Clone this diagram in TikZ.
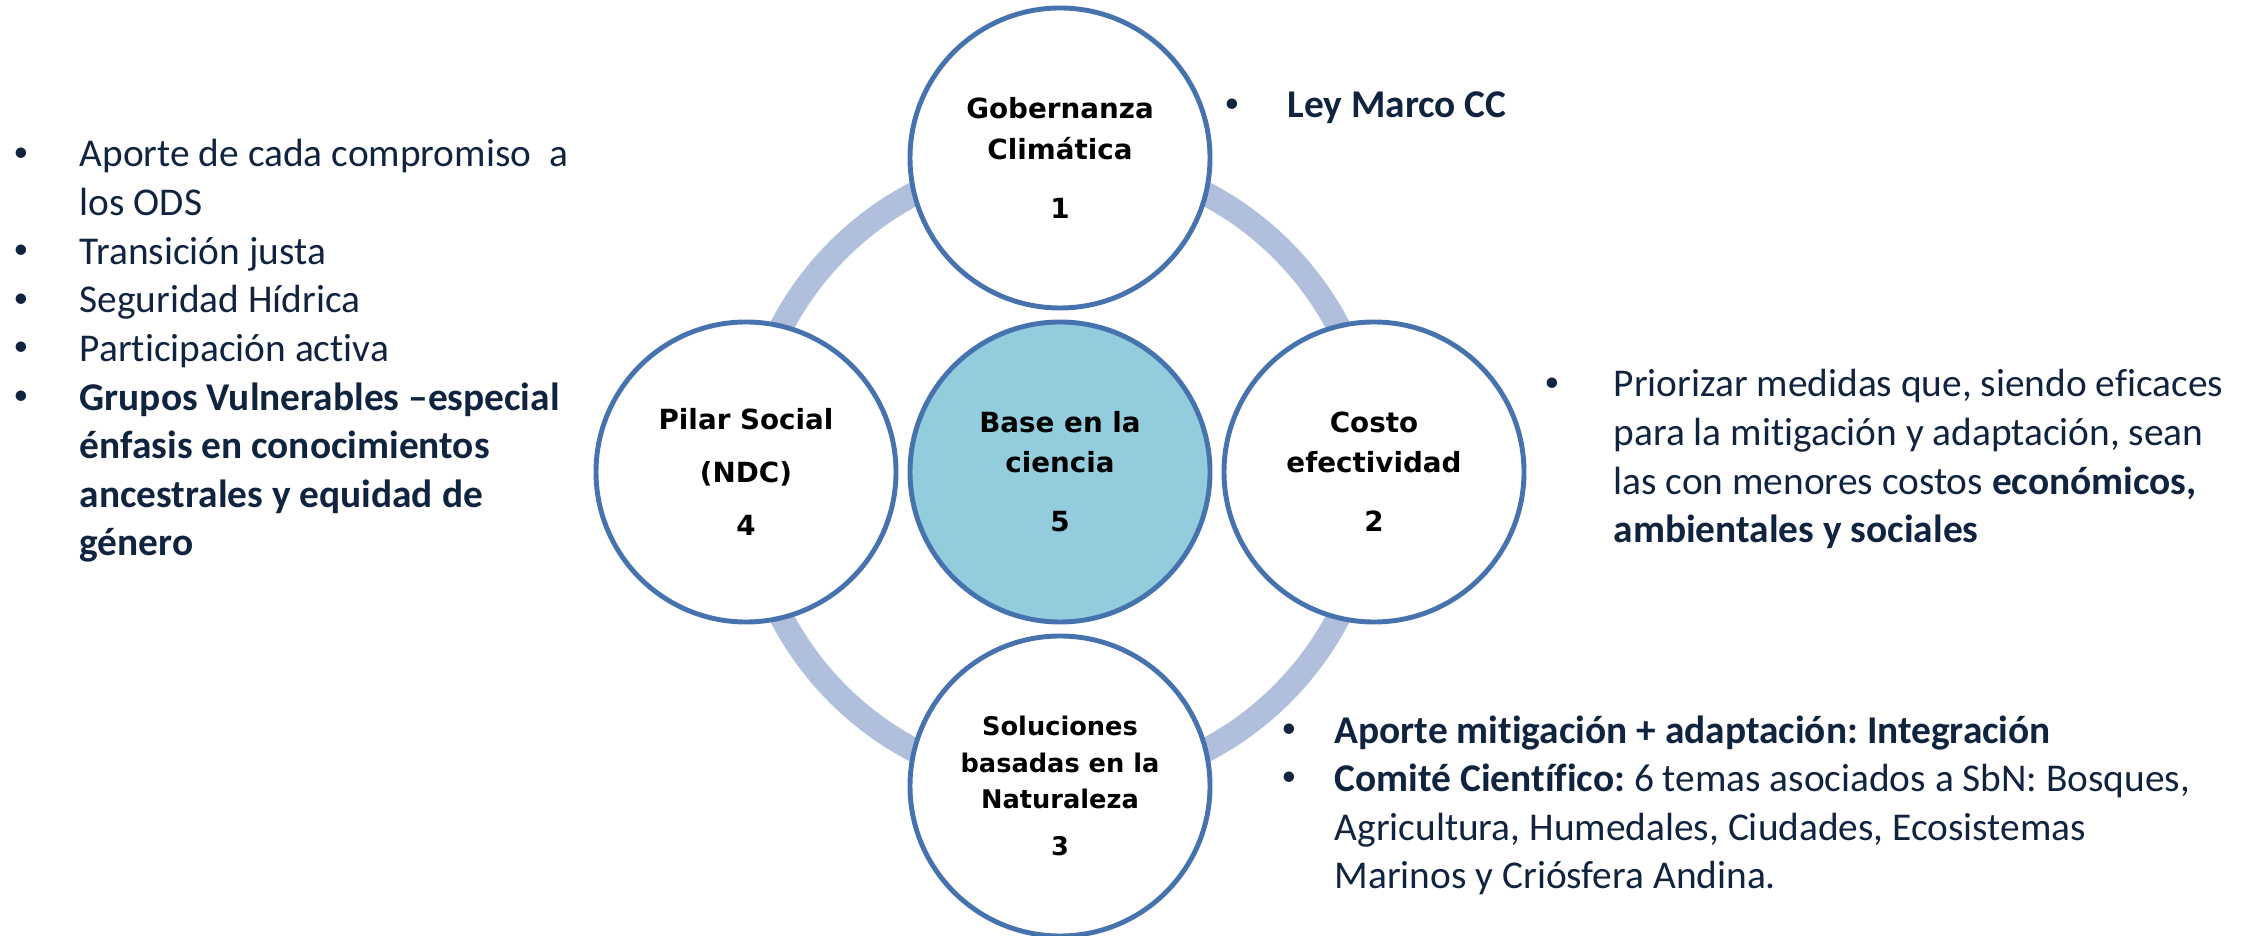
\documentclass[tikz,border=0pt]{standalone}
\usepackage{fontspec}
\setmainfont{Carlito}[Ligatures=NoCommon]
\newfontfamily\pilarfont{DejaVu Sans}
\usetikzlibrary{positioning,backgrounds}
\definecolor{bordeazul}{HTML}{4672AE}
\definecolor{anilloazul}{HTML}{B0BFDC}
\definecolor{rellenoceleste}{HTML}{93CDDD}
\definecolor{textoazul}{HTML}{10233F}
\newcommand{\vineta}{\raisebox{0.3ex}{\scalebox{0.75}{\textbullet}}}
\tikzset{
    pilar/.style={circle, draw=bordeazul, line width=1.4pt, fill=white, minimum size=3cm,
        inner sep=0pt, outer sep=0pt, align=center,
        font=\pilarfont\bfseries\fontsize{7.9}{11.4}\selectfont},
    anillo/.style={draw=anilloazul, line width=0.24cm},
    lista/.style={inner sep=0pt, text=textoazul, font=\frenchspacing\fontsize{11.2}{13.83}\selectfont},
}
\begin{document}
\begin{tikzpicture}
    \useasboundingbox (0,0) rectangle (22.52,-9.36);
    \node[pilar, fill=rellenoceleste] (base) at (10.60,-4.72) {Base en la\\ciencia\\[5.4pt]5};
    \node[pilar, above=0.14cm of base] (gob) {Gobernanza\\Climática\\[5.4pt]1};
    \node[pilar, right=0.14cm of base] (costo) {Costo\\efectividad\\[5.4pt]2};
    \node[pilar, below=0.14cm of base, font=\pilarfont\bfseries\fontsize{7.3}{10.4}\selectfont] (sol)
        {Soluciones\\basadas en la\\Naturaleza\\[3pt]3};
    \node[pilar, left=0.14cm of base] (social) {Pilar Social\\[3.6pt](NDC)\\[3.6pt]4};
    % anillo detras de los pilares
    \begin{scope}[on background layer]
        \draw[anillo] (base.center) circle (3.14);
    \end{scope}
    % listas de texto
    \node[lista, anchor=base west] (lsocial) at (0.13,-1.67)
    {
        \begin{tabular}[t]{@{}p{0.66cm}@{}l@{}}
            \vineta & Aporte de cada compromiso\ \ a\\
             & los ODS\\
            \vineta & Transición justa\\
            \vineta & Seguridad Hídrica\\
            \vineta & Participación activa\\
            \vineta & \textbf{Grupos Vulnerables –especial}\\
             & \textbf{énfasis en conocimientos}\\
             & \textbf{ancestrales y equidad de}\\
             & \textbf{género}
        \end{tabular}
    };
    \node[lista, anchor=base west] (lgob) at (12.24,-1.18)
    {
        \begin{tabular}[t]{@{}p{0.63cm}@{}l@{}}
            \vineta & \textbf{Ley Marco CC}
        \end{tabular}
    };
    \node[lista, anchor=base west] (lcosto) at (15.44,-3.97)
    {
        \begin{tabular}[t]{@{}p{0.69cm}@{}l@{}}
            \vineta & Priorizar medidas que, siendo eficaces\\
             & para la mitigación y adaptación, sean\\
             & las con menores costos \textbf{económicos,}\\
             & \textbf{ambientales y sociales}
        \end{tabular}
    };
    \node[lista, anchor=base west] (lsol) at (12.81,-7.43)
    {
        \begin{tabular}[t]{@{}p{0.53cm}@{}l@{}}
            \vineta & \textbf{Aporte mitigación + adaptación: Integración}\\
            \vineta & \textbf{Comité Científico:} 6 temas asociados a SbN: Bosques,\\
             & Agricultura, Humedales, Ciudades, Ecosistemas\\
             & Marinos y Criósfera Andina.
        \end{tabular}
    };
\end{tikzpicture}
\end{document}
